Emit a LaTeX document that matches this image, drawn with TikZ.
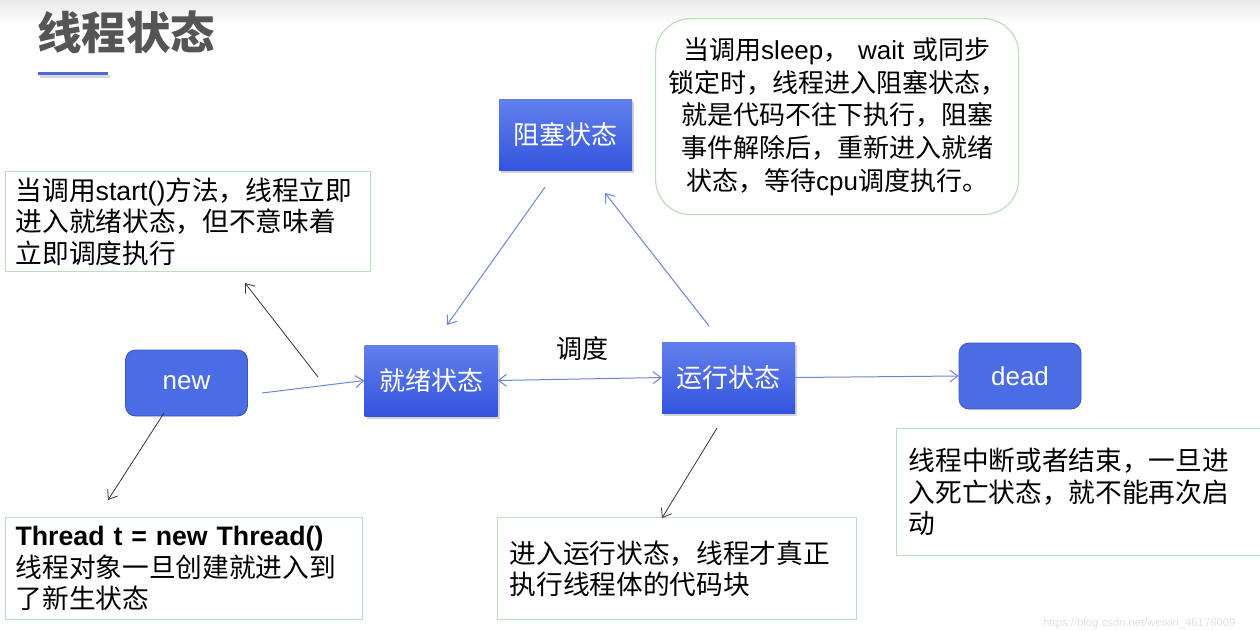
\documentclass[tikz,border=0pt]{standalone}
\usepackage{fontspec}
\setmainfont{Noto Sans CJK SC}
\newfontfamily\lat{Liberation Sans}
\usetikzlibrary{arrows.meta,shadows}
\definecolor{boxblue}{RGB}{74,108,228}
\definecolor{boxborder}{RGB}{60,84,190}
\definecolor{lineblue}{RGB}{110,132,214}
\definecolor{notegreen}{RGB}{188,222,184}
\definecolor{titlegray}{RGB}{85,85,85}
\definecolor{gradtop}{RGB}{98,128,236}
\definecolor{gradbot}{RGB}{52,84,222}
\definecolor{barblue}{RGB}{80,104,214}
\begin{document}
\begin{tikzpicture}[x=1pt,y=-1pt,
 statebox/.style={rectangle, draw=none, top color=gradtop, bottom color=gradbot, minimum width=133pt, minimum height=71pt, text=white, font=\fontsize{26}{30}\selectfont, drop shadow={shadow xshift=2pt,shadow yshift=-3pt,opacity=0.35}, inner sep=0pt},
 termbox/.style={rectangle, rounded corners=10pt, draw=boxborder, fill=boxblue, minimum width=122pt, minimum height=66pt, text=white, font=\lat\fontsize{26}{30}\selectfont, inner sep=0pt, line width=0.8pt},
 note/.style={rectangle, draw=notegreen, line width=1.2pt, align=left, anchor=north west, inner xsep=10pt, inner ysep=0pt, font=\fontsize{26.7}{31.5}\selectfont, text=black},
 flow/.style={draw=lineblue, line width=1pt, -{Straight Barb[length=8pt,width=12pt]}},
 hint/.style={draw=black!80, line width=0.8pt, -{Straight Barb[length=8pt,width=12pt]}},
]
\useasboundingbox (0,0) rectangle (1260,630);
\shade[top color=black!9, bottom color=white, draw=none] (0,0) rectangle (1260,24);

% title
\node[anchor=west, text=titlegray, font=\bfseries\fontsize{44.5}{48}\selectfont, inner sep=0pt] (title) at (37,32) {线程状态};
\draw[line width=3pt, black!15] (40,76) -- (110,76);
\draw[line width=3pt, barblue] (38,73) -- (108,73);

% states
\node[termbox] (new) at (186.5,383) {new};
\node[statebox] (ready) at (431,380.5) {就绪状态};
\node[statebox] (run) at (728.5,377.5) {运行状态};
\node[statebox] (block) at (565.5,134.5) {阻塞状态};
\node[termbox] (dead) at (1020,376) {dead};
\node[font=\fontsize{26}{30}\selectfont, inner sep=0pt] (sched) at (582,349) {调度};

% notes
\node[note, text width=345pt, minimum height=100pt] (nstart) at (5,171) {%
当调用{\lat start()}方法，线程立即\\
进入就绪状态，但不意味着\\
立即调度执行};
\node[note, text width=337pt, minimum height=102pt] (nthread) at (5,517) {%
{\lat\bfseries Thread t = new Thread()}\\
线程对象一旦创建就进入到\\
了新生状态};
\node[note, inner xsep=12pt, text width=335pt, minimum height=102pt] (nrun) at (497,517) {%
进入运行状态，线程才真正\\
执行线程体的代码块};
\node[note, inner xsep=12pt, text width=346pt, minimum height=127pt] (ndead) at (896,428) {%
线程中断或者结束，一旦进\\
入死亡状态，就不能再次启\\
动};
\node[note, rounded corners=35pt, align=center, text width=343pt, minimum height=196pt, font=\fontsize{26}{32.8}\selectfont] (nblock) at (655,18) {%
当调用{\lat sleep}， {\lat wait} 或同步\\
锁定时，线程进入阻塞状态，\\
就是代码不往下执行，阻塞\\
事件解除后，重新进入就绪\\
状态，等待{\lat cpu}调度执行。};

% connector end points
\coordinate (newout) at (262,393);
\coordinate (blockout) at (545,187);
\coordinate (readyin) at (447,325);
\coordinate (runout) at (709,326);
\coordinate (blockin) at (605,193);
\coordinate (h1s) at (318,377);
\coordinate (h1e) at (245,283);
\coordinate (h2s) at (164,413);
\coordinate (h2e) at (108,500);
\coordinate (h3s) at (717,428);
\coordinate (h3e) at (662,518);

% flows
\draw[flow] (newout) -- (ready.west);
\draw[flow, {Straight Barb[length=8pt,width=12pt]}-{Straight Barb[length=8pt,width=12pt]}] (ready.east) -- (run.west);
\draw[flow] (run.east) -- (dead.west);
\draw[flow] (blockout) -- (readyin);
\draw[flow] (runout) -- (blockin);

% hints
\draw[hint] (h1s) -- (h1e);
\draw[hint] (h2s) -- (h2e);
\draw[hint] (h3s) -- (h3e);

% watermark
\node[anchor=west, text=black!12, font=\lat\fontsize{11.3}{13}\selectfont, inner sep=0pt] (wm) at (1043,624) {https://blog.csdn.net/weixin\_46178009};
\end{tikzpicture}
\end{document}
